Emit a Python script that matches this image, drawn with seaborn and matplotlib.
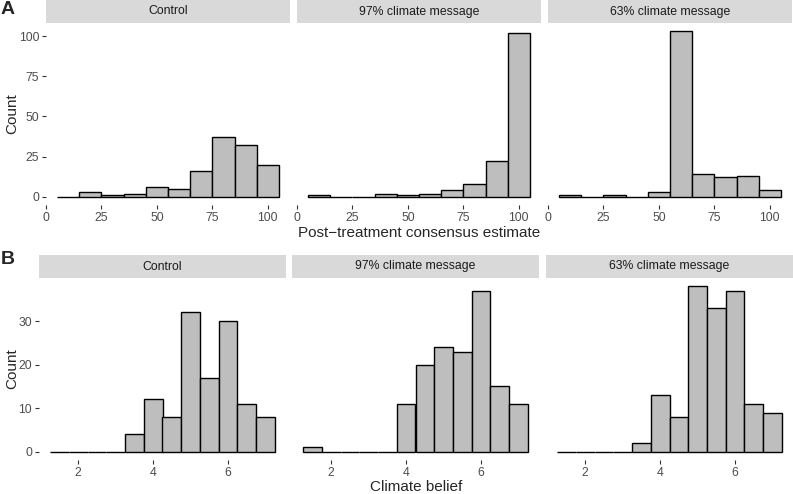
import numpy as np
import pandas as pd
import matplotlib
matplotlib.use("Agg")
import matplotlib.pyplot as plt
import seaborn as sns

# Data (bin centres and counts per condition)
conditions = ["Control", "97% climate message", "63% climate message"]

consensus_centres = [10, 20, 30, 40, 50, 60, 70, 80, 90, 100]
consensus_control = [0, 3, 1, 2, 6, 5, 16, 37, 32, 20]
consensus_97 = [1, 0, 0, 2, 1, 2, 4, 8, 22, 102]
consensus_63 = [1, 0, 1, 0, 3, 103, 14, 12, 13, 4]

belief_centres = [1.5, 2.0, 2.5, 3.0, 3.5, 4.0, 4.5, 5.0, 5.5, 6.0, 6.5, 7.0]
belief_control = [0, 0, 0, 0, 4, 12, 8, 32, 17, 30, 11, 8]
belief_97 = [1, 0, 0, 0, 0, 11, 20, 24, 23, 37, 15, 11]
belief_63 = [0, 0, 0, 0, 2, 13, 8, 38, 33, 37, 11, 9]

consensus_ticks = [0, 25, 50, 75, 100]
consensus_yticks = [0, 25, 50, 75, 100]
belief_ticks = [2, 4, 6]
belief_yticks = [0, 10, 20, 30]

sns.set_theme(style="white")
plt.rcParams['font.family'] = ['Liberation Sans', 'DejaVu Sans']

W, H = 793, 494
fig = plt.figure(figsize=(W / 100, H / 100), dpi=100)


def px_axes(left, top, width, height):
    return fig.add_axes([left / W, 1 - (top + height) / H, width / W, height / H])


def make_row(centres, counts_list, width, lefts, top, pw, ph, xlim, ylim, xticks, yticks):
    edges = [c - width / 2 for c in centres] + [centres[-1] + width / 2]
    for i, (cond, counts) in enumerate(zip(conditions, counts_list)):
        ax = px_axes(lefts[i], top, pw, ph)
        df = pd.DataFrame({"x": centres, "n": counts})
        sns.histplot(data=df, x="x", weights="n", bins=edges, ax=ax,
                     color="#BEBEBE", edgecolor="black", linewidth=1.0, alpha=1)
        ax.set_xlim(*xlim)
        ax.set_ylim(*ylim)
        ax.set_xticks(xticks)
        ax.set_xlabel("")
        ax.set_ylabel("")
        for s in ax.spines.values():
            s.set_visible(False)
        ax.tick_params(axis="both", length=2.75, width=0.8, color="#333333",
                       labelcolor="#4D4D4D", labelsize=8.8, pad=2.2,
                       bottom=True, left=(i == 0))
        ax.set_yticks(yticks)
        if i > 0:
            ax.set_yticklabels([])
            ax.tick_params(axis="y", length=0)
        # strip header
        sx = px_axes(lefts[i], top - 23, pw, 23)
        sx.set_facecolor("#D9D9D9")
        sx.set_xticks([])
        sx.set_yticks([])
        for s in sx.spines.values():
            s.set_visible(False)
        sx.text(0.5, 0.5, cond, ha="center", va="center", fontsize=8.8,
                color="#1A1A1A", transform=sx.transAxes)


make_row(consensus_centres, [consensus_control, consensus_97, consensus_63], 10,
         [46, 297, 548], 23, 244, 182, (0, 110), (-5.15, 108.15),
         consensus_ticks, consensus_yticks)
make_row(belief_centres, [belief_control, belief_97, belief_63], 0.5,
         [39, 292, 546], 278, 247, 182, (0.95, 7.55), (-1.9, 39.9),
         belief_ticks, belief_yticks)

fig.text(419 / W, 1 - 233 / H, "Post\u2212treatment consensus estimate",
         ha="center", va="center", fontsize=11)
fig.text(416 / W, 1 - 487 / H, "Climate belief", ha="center", va="center", fontsize=11)
fig.text(12 / W, 1 - 114 / H, "Count", rotation=90, ha="center", va="center", fontsize=11)
fig.text(12 / W, 1 - 369 / H, "Count", rotation=90, ha="center", va="center", fontsize=11)
fig.text(1 / W, 1 - 9 / H, "A", ha="left", va="center", fontsize=14, fontweight="bold")
fig.text(1 / W, 1 - 260 / H, "B", ha="left", va="center", fontsize=14, fontweight="bold")

fig.savefig("out.png", dpi=100, facecolor="white")
